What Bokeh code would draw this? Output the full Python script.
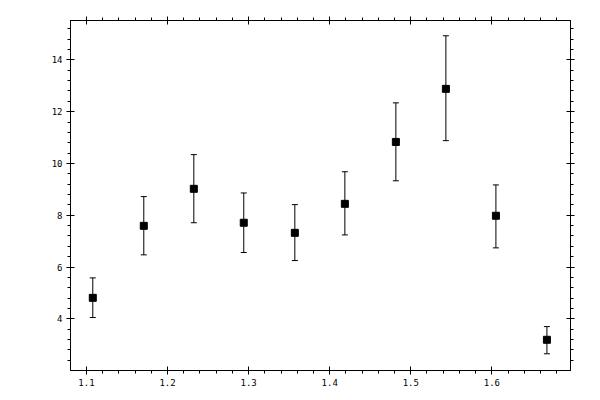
from bokeh.plotting import figure
from bokeh.models import (LinearAxis, SingleIntervalTicker, Range1d, Whisker,
                          TeeHead, ColumnDataSource, CustomJSTickFormatter)
from bokeh.embed import file_html
from bokeh.resources import INLINE

x_vals = [1.1078, 1.1707, 1.2324, 1.294, 1.357, 1.4187, 1.4816, 1.5433, 1.605, 1.6679]
y_vals = [4.81, 7.59, 9.02, 7.71, 7.32, 8.44, 10.83, 12.88, 7.98, 3.19]
y_upper = [5.58, 8.72, 10.34, 8.86, 8.41, 9.68, 12.34, 14.93, 9.17, 3.70]
y_lower = [4.05, 6.47, 7.71, 6.56, 6.25, 7.24, 9.33, 10.88, 6.74, 2.65]

src = ColumnDataSource(dict(x=x_vals, y=y_vals, upper=y_upper, lower=y_lower))

p = figure(width=590, height=392, output_backend="svg", toolbar_location=None,
           x_range=Range1d(1.0803, 1.697), y_range=Range1d(2.004, 15.52),
           x_axis_location=None, y_axis_location=None,
           min_border_left=70, min_border_right=20, min_border_top=20,
           min_border_bottom=22)
p.xgrid.visible = False
p.ygrid.visible = False
p.outline_line_color = "black"
p.outline_line_width = 1

FONT = "DejaVu Sans Mono"

def make_axis(kind, show_labels):
    if kind == "x":
        ticker = SingleIntervalTicker(interval=0.1, num_minor_ticks=5)
    else:
        ticker = SingleIntervalTicker(interval=2, num_minor_ticks=5)
    ax = LinearAxis(ticker=ticker)
    ax.axis_line_color = "black"
    ax.axis_line_width = 1
    ax.major_tick_line_color = "black"
    ax.minor_tick_line_color = "black"
    ax.major_tick_in = 4
    ax.major_tick_out = 4
    ax.minor_tick_in = 0
    ax.minor_tick_out = 3
    ax.major_label_text_font = FONT
    ax.major_label_text_color = "black"
    ax.major_label_text_font_size = "9px"
    if show_labels:
        ax.major_label_standoff = 4
    else:
        ax.formatter = CustomJSTickFormatter(code="return ''")
        ax.major_label_standoff = 0
    return ax

p.add_layout(make_axis("x", True), "below")
p.add_layout(make_axis("x", False), "above")
p.add_layout(make_axis("y", True), "left")
p.add_layout(make_axis("y", False), "right")

w = Whisker(source=src, base="x", upper="upper", lower="lower",
            line_color="black", line_width=1,
            upper_head=TeeHead(size=6, line_color="black", line_width=1),
            lower_head=TeeHead(size=6, line_color="black", line_width=1))
p.add_layout(w)

p.scatter("x", "y", source=src, marker="square", size=7,
          fill_color="black", line_color="black")

open("out.html", "w").write(file_html(p, INLINE))
